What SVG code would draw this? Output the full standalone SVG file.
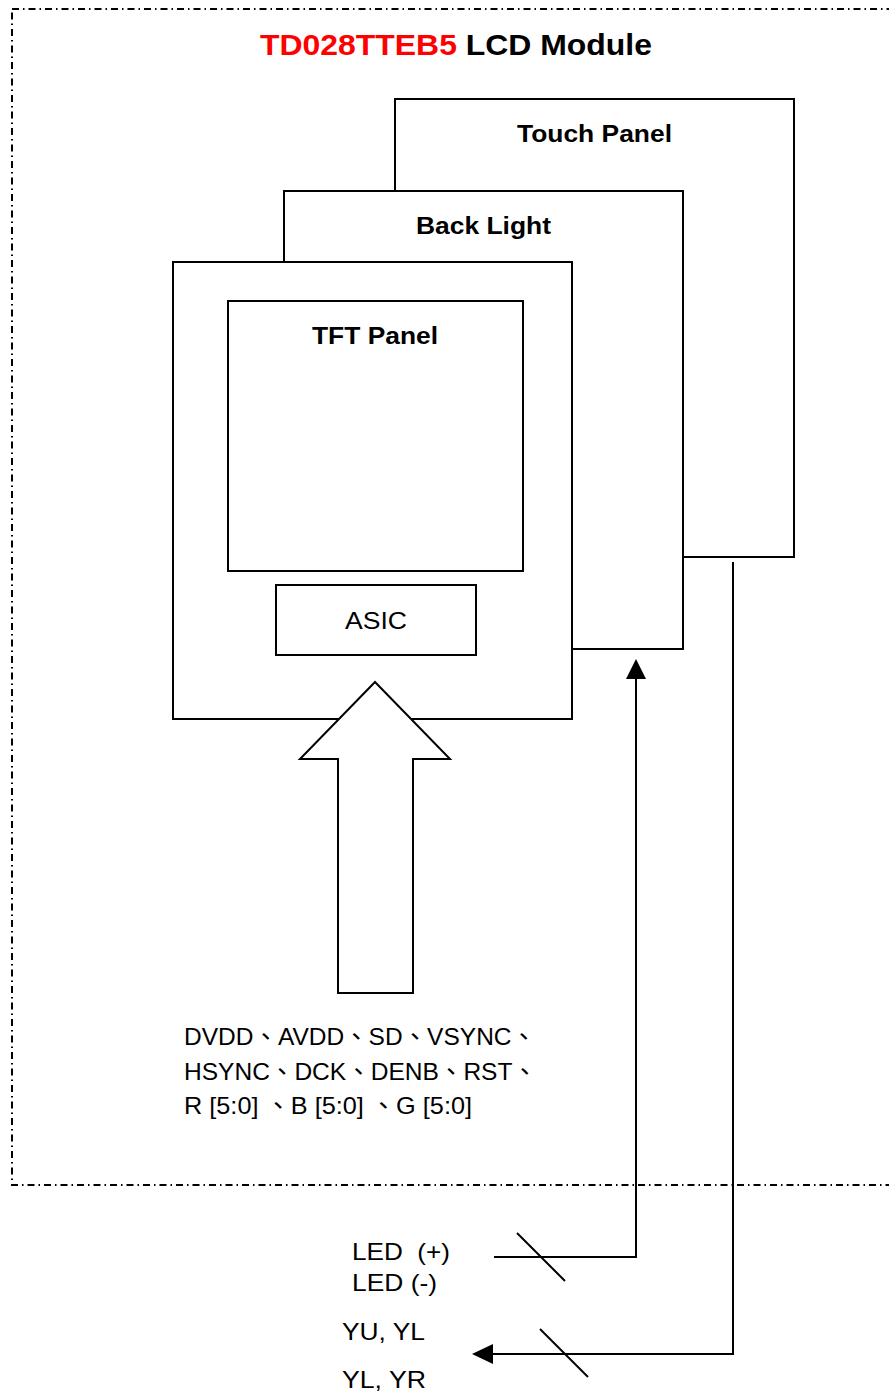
<svg xmlns="http://www.w3.org/2000/svg" width="889" height="1396" viewBox="0 0 889 1396">
<style>
.box{fill:#fff;stroke:#000;stroke-width:2}
.ln{fill:none;stroke:#000;stroke-width:2}
.b{font-family:"Liberation Sans","Noto Sans CJK TC",sans-serif;font-weight:bold;font-size:24px;fill:#000}
.t{font-family:"Liberation Sans","Noto Sans CJK TC",sans-serif;font-size:24px;fill:#000}
</style>
<defs>
<marker id="ah" markerWidth="10" markerHeight="10" refX="10" refY="5" orient="auto" markerUnits="userSpaceOnUse" viewBox="0 0 10 10">
<path d="M0,0 L10,5 L0,10 Z" fill="#000"/>
</marker>
</defs>
<rect width="889" height="1396" fill="#fff"/>
<g id="module">
<rect x="12" y="9" width="900" height="1176" fill="none" stroke="#000" stroke-width="2" stroke-dasharray="7,4,1.5,4"/>
<text x="260" y="55" textLength="392" lengthAdjust="spacingAndGlyphs" style="font-family:'Liberation Sans',sans-serif;font-weight:bold;font-size:30px"><tspan fill="#ff0000">TD028TTEB5</tspan><tspan fill="#000"> LCD Module</tspan></text>
</g>
<g id="touch-panel">
<rect class="box" x="395" y="99" width="399" height="458"/>
<text class="b" x="517" y="142" textLength="155" lengthAdjust="spacingAndGlyphs">Touch Panel</text>
</g>
<g id="back-light">
<rect class="box" x="284" y="191" width="399" height="458"/>
<text class="b" x="416" y="234" textLength="135" lengthAdjust="spacingAndGlyphs">Back Light</text>
</g>
<g id="lcd">
<rect class="box" x="173" y="262" width="399" height="457"/>
</g>
<g id="tft-panel">
<rect class="box" x="228" y="301" width="295" height="270"/>
<text class="b" x="312" y="344" textLength="126" lengthAdjust="spacingAndGlyphs">TFT Panel</text>
</g>
<g id="asic">
<rect class="box" x="276" y="585" width="200" height="70"/>
<text class="t" x="345" y="629" textLength="62" lengthAdjust="spacingAndGlyphs">ASIC</text>
</g>
<g id="signals">
<polygon class="box" points="375,682 450,759 413,759 413,993 338,993 338,759 300,759"/>
<text class="t" x="184" y="1045" textLength="352" lengthAdjust="spacingAndGlyphs">DVDD、AVDD、SD、VSYNC、</text>
<text class="t" x="184" y="1080" textLength="353" lengthAdjust="spacingAndGlyphs">HSYNC、DCK、DENB、RST、</text>
<text class="t" x="184" y="1114" textLength="288" lengthAdjust="spacingAndGlyphs">R [5:0] 、B [5:0] 、G [5:0]</text>
</g>
<g id="connectors">
<polyline class="ln" points="494,1257 636,1257 636,678"/>
<path d="M626,679 L636,659 L646,679 Z" fill="#000"/>
<line class="ln" x1="517" y1="1233" x2="565" y2="1281"/>
<polyline class="ln" points="733,562 733,1354 492,1354"/>
<path d="M493,1344 L472,1354 L493,1364 Z" fill="#000"/>
<line class="ln" x1="540" y1="1329" x2="588" y2="1377"/>
</g>
<g id="labels">
<text class="t" x="352" y="1260" textLength="98" lengthAdjust="spacingAndGlyphs" xml:space="preserve">LED  (+)</text>
<text class="t" x="352" y="1291" textLength="85" lengthAdjust="spacingAndGlyphs">LED (-)</text>
<text class="t" x="342" y="1340" textLength="83" lengthAdjust="spacingAndGlyphs">YU, YL</text>
<text class="t" x="342" y="1388" textLength="84" lengthAdjust="spacingAndGlyphs">YL, YR</text>
</g>
</svg>
